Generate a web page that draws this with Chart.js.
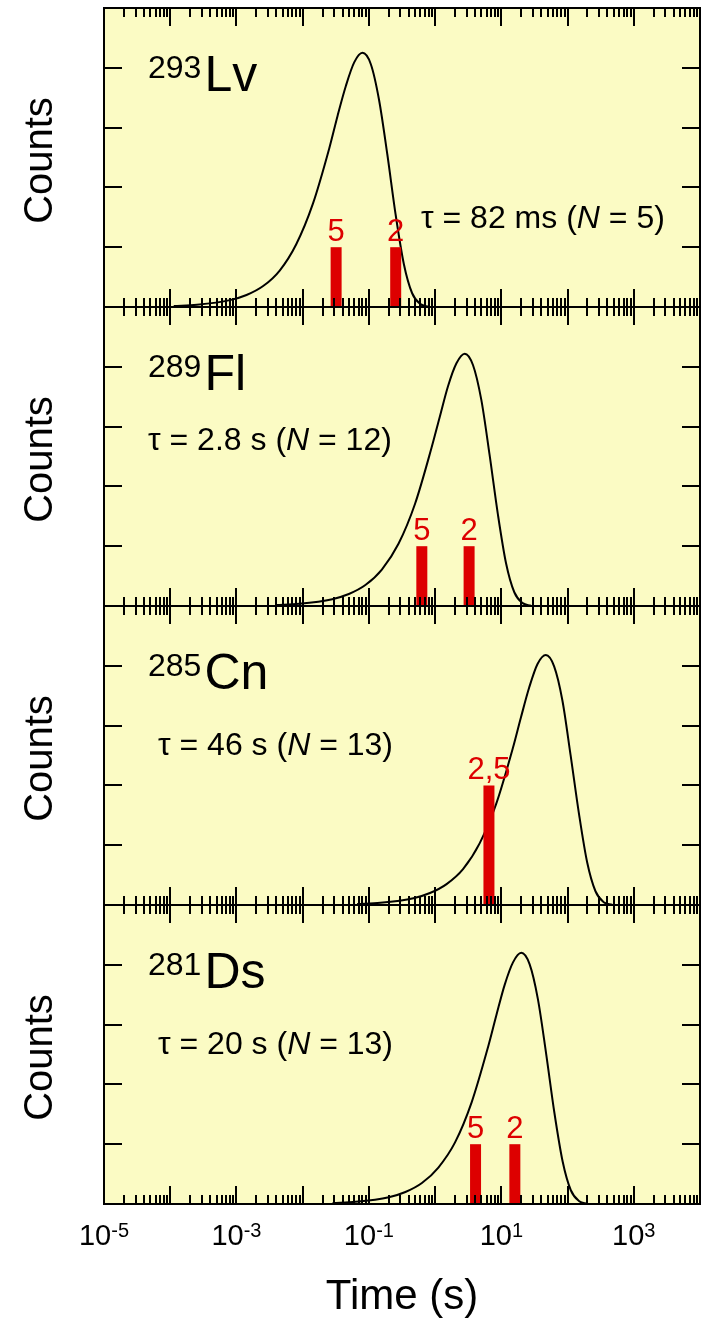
<!DOCTYPE html>
<html>
<head>
<meta charset="utf-8">
<script src="https://cdn.jsdelivr.net/npm/chart.js@4.4.1/dist/chart.umd.min.js"></script>
<style>
  html, body { margin: 0; padding: 0; background: #fff; }
  #wrap { position: relative; width: 702px; height: 1319px; }
  #wrap canvas { position: absolute; left: 0; }
</style>
</head>
<body>
<div id="wrap"></div>
<script>
// decay time distributions (time in s, counts)
const lvTime = [0.000113, 0.000253, 0.0008, 0.00142, 0.00253, 0.0045, 0.008, 0.0142, 0.0253, 0.0337, 0.045, 0.060, 0.080, 0.107, 0.142, 0.190, 0.253, 0.337, 0.450, 0.600, 0.80];
const lvCounts = [0.016, 0.037, 0.115, 0.20, 0.35, 0.61, 1.05, 1.72, 2.66, 3.20, 3.70, 4.09, 4.25, 4.06, 3.47, 2.55, 1.55, 0.72, 0.23, 0.048, 0.005];
const lvBarTime = [0.032, 0.254];
const lvBarCounts = [1, 1];
const lvBarLabels = ['5', '2'];

const flTime = [0.00396, 0.00885, 0.028, 0.0498, 0.0885, 0.157, 0.28, 0.498, 0.885, 1.18, 1.57, 2.10, 2.8, 3.73, 4.98, 6.64, 8.85, 11.8, 15.7, 21.0, 28];
const flCounts = [0.016, 0.036, 0.114, 0.20, 0.35, 0.61, 1.04, 1.71, 2.65, 3.17, 3.68, 4.06, 4.22, 4.03, 3.45, 2.53, 1.54, 0.71, 0.23, 0.048, 0.005];
const flBarTime = [0.63, 3.26];
const flBarCounts = [1, 1];
const flBarLabels = ['5', '2'];

const cnTime = [0.0664, 0.149, 0.47, 0.836, 1.49, 2.64, 4.7, 8.36, 14.9, 19.8, 26.4, 35.2, 47, 62.7, 83.6, 111, 149, 198, 264, 352, 470];
const cnCounts = [0.016, 0.036, 0.113, 0.20, 0.35, 0.60, 1.03, 1.69, 2.62, 3.14, 3.64, 4.03, 4.18, 3.99, 3.42, 2.51, 1.52, 0.71, 0.23, 0.047, 0.005];
const cnBarTime = [6.5];
const cnBarCounts = [2];
const cnBarLabels = ['2,5'];

const dsTime = [0.0283, 0.0632, 0.2, 0.356, 0.632, 1.12, 2.0, 3.56, 6.32, 8.43, 11.2, 15.0, 20, 26.7, 35.6, 47.4, 63.2, 84.3, 112, 150, 200];
const dsCounts = [0.016, 0.036, 0.113, 0.20, 0.35, 0.61, 1.03, 1.70, 2.63, 3.16, 3.66, 4.04, 4.20, 4.01, 3.43, 2.52, 1.53, 0.71, 0.23, 0.047, 0.005];
const dsBarTime = [4.08, 16];
const dsBarCounts = [1, 1];
const dsBarLabels = ['5', '2'];

const massNumbers = ['293', '289', '285', '281'];
const symbols = ['Lv', 'Fl', 'Cn', 'Ds'];
const tauTexts = [
  ['τ = 82 ms (', 'N', ' = 5)'],
  ['τ = 2.8 s (', 'N', ' = 12)'],
  ['τ = 46 s (', 'N', ' = 13)'],
  ['τ = 20 s (', 'N', ' = 13)']
];
const xLabelExponents = [-5, -3, -1, 1, 3];
const yTicks = [1, 2, 3, 4];

const FONT = '"Liberation Sans", Arial, Helvetica, sans-serif';
const BG = '#fbfbc4';
const RED = '#dd0000';

const panels = [
  { time: lvTime, counts: lvCounts, barTime: lvBarTime, barCounts: lvBarCounts, barLabels: lvBarLabels, tauAt: [421, 220] },
  { time: flTime, counts: flCounts, barTime: flBarTime, barCounts: flBarCounts, barLabels: flBarLabels, tauAt: [148, 143] },
  { time: cnTime, counts: cnCounts, barTime: cnBarTime, barCounts: cnBarCounts, barLabels: cnBarLabels, tauAt: [158, 149] },
  { time: dsTime, counts: dsCounts, barTime: dsBarTime, barCounts: dsBarCounts, barLabels: dsBarLabels, tauAt: [158, 149] }
];

const PANEL_H = 299;
const FIRST_TOP = 8;

const panelPlugin = {
  id: 'panel',
  beforeDraw(chart) {
    const { ctx, chartArea: a } = chart;
    ctx.save();
    ctx.fillStyle = BG;
    ctx.fillRect(a.left, a.top, a.right - a.left, a.bottom - a.top);
    ctx.restore();
  },
  afterDraw(chart) {
    const p = chart.options.plugins.panel;
    const { ctx, chartArea: a } = chart;
    const x = chart.scales.x, y = chart.scales.y;
    ctx.save();

    // ticks, all pointing inward
    ctx.strokeStyle = '#000';
    ctx.lineWidth = 2;
    ctx.beginPath();
    for (let e = -5; e < 4; e++) {
      for (let k = 1; k < 10; k++) {
        const px = Math.round(x.getPixelForValue(k * Math.pow(10, e)));
        const len = k === 1 ? 18 : 9;
        ctx.moveTo(px, a.top); ctx.lineTo(px, a.top + len);
        ctx.moveTo(px, a.bottom); ctx.lineTo(px, a.bottom - len);
      }
    }
    yTicks.forEach(v => {
      const py = Math.round(y.getPixelForValue(v));
      ctx.moveTo(a.left, py); ctx.lineTo(a.left + 18, py);
      ctx.moveTo(a.right, py); ctx.lineTo(a.right - 18, py);
    });
    ctx.stroke();
    ctx.strokeRect(a.left, a.top, a.right - a.left, a.bottom - a.top);

    // red count labels above the bars
    ctx.fillStyle = RED;
    ctx.font = '31px ' + FONT;
    ctx.textAlign = 'center';
    ctx.textBaseline = 'alphabetic';
    p.barTime.forEach((t, i) => {
      ctx.fillText(p.barLabels[i], x.getPixelForValue(t), y.getPixelForValue(p.barCounts[i]) - 6);
    });

    // nucleus name
    ctx.fillStyle = '#000';
    ctx.textAlign = 'left';
    ctx.font = '32px ' + FONT;
    const nx = 148;
    ctx.fillText(p.mass, nx, a.top + 70);
    const mw = ctx.measureText(p.mass).width;
    ctx.font = '50px ' + FONT;
    ctx.fillText(p.symbol, nx + mw + 3, a.top + 83);

    // half-life text
    let tx = p.tauAt[0];
    const ty = a.top + p.tauAt[1];
    p.tau.forEach((s, i) => {
      ctx.font = (i === 1 ? 'italic ' : '') + '32px ' + FONT;
      ctx.fillText(s, tx, ty);
      tx += ctx.measureText(s).width;
    });

    // y title
    ctx.save();
    ctx.translate(52, (a.top + a.bottom) / 2 + 3);
    ctx.rotate(-Math.PI / 2);
    ctx.textAlign = 'center';
    ctx.font = '40px ' + FONT;
    ctx.fillText('Counts', 0, 0);
    ctx.restore();

    // bottom axis labels
    if (p.bottom) {
      xLabelExponents.forEach(e => {
        const px = x.getPixelForValue(Math.pow(10, e));
        const base = '10', sup = String(e);
        ctx.font = '29px ' + FONT;
        const bw = ctx.measureText(base).width;
        ctx.font = '20px ' + FONT;
        const sw = ctx.measureText(sup).width;
        const left = px - (bw + sw) / 2;
        ctx.textAlign = 'left';
        ctx.font = '29px ' + FONT;
        ctx.fillText(base, left, a.bottom + 41);
        ctx.font = '20px ' + FONT;
        ctx.fillText(sup, left + bw, a.bottom + 33);
      });
      ctx.textAlign = 'center';
      ctx.font = '42px ' + FONT;
      ctx.fillText('Time (s)', (a.left + a.right) / 2, a.bottom + 105);
    }
    ctx.restore();
  }
};

const wrap = document.getElementById('wrap');

panels.forEach((p, i) => {
  const panelTop = FIRST_TOP + i * PANEL_H;
  const padTop = i === 0 ? FIRST_TOP : 10;
  const padBottom = i === panels.length - 1 ? 1319 - (panelTop + PANEL_H) : 10;
  const canvas = document.createElement('canvas');
  canvas.width = 702;
  canvas.height = PANEL_H + padTop + padBottom;
  canvas.style.top = (panelTop - padTop) + 'px';
  wrap.appendChild(canvas);

  const datasets = [];
  p.barTime.forEach((t, k) => {
    datasets.push({
      data: [{ x: t, y: 0 }, { x: t, y: p.barCounts[k] }],
      borderColor: RED,
      borderWidth: 11,
      borderCapStyle: 'butt',
      pointRadius: 0,
      order: 0
    });
  });
  datasets.push({
    data: p.time.map((t, k) => ({ x: t, y: p.counts[k] })),
    borderColor: '#000',
    borderWidth: 2,
    pointRadius: 0,
    cubicInterpolationMode: 'monotone',
    order: 1
  });

  new Chart(canvas.getContext('2d'), {
    type: 'line',
    data: { datasets },
    options: {
      responsive: false,
      animation: false,
      devicePixelRatio: 1,
      layout: { padding: { left: 104, right: 2, top: padTop, bottom: padBottom } },
      scales: {
        x: { type: 'logarithmic', min: 1e-5, max: 1e4, display: false },
        y: { type: 'linear', min: 0, max: 5, display: false }
      },
      plugins: {
        legend: { display: false },
        tooltip: { enabled: false },
        panel: {
          barTime: p.barTime,
          barCounts: p.barCounts,
          barLabels: p.barLabels,
          mass: massNumbers[i],
          symbol: symbols[i],
          tau: tauTexts[i],
          tauAt: p.tauAt,
          bottom: i === panels.length - 1
        }
      }
    },
    plugins: [panelPlugin]
  });
});
</script>
</body>
</html>
